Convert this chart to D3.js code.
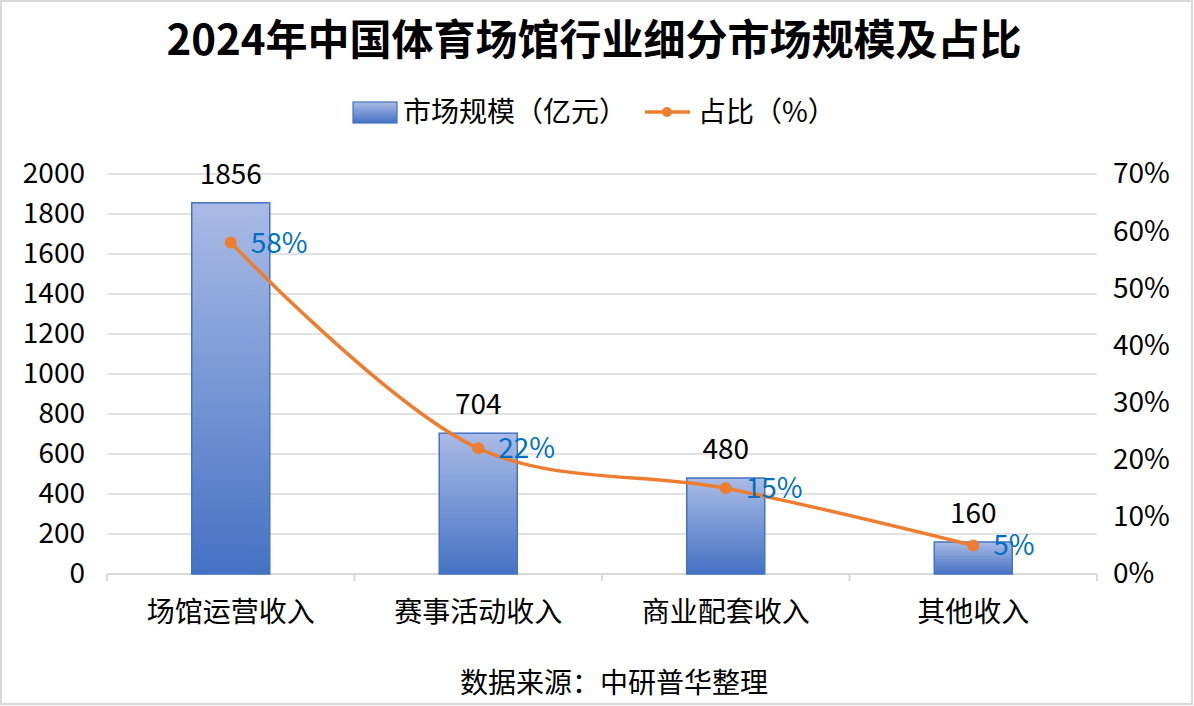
<!DOCTYPE html>
<html><head><meta charset="utf-8">
<script src="https://cdn.jsdelivr.net/npm/d3@7"></script>
<style>body{margin:0;background:#fff;} svg{display:block;font-family:"Noto Sans CJK SC","Noto Sans",sans-serif;}</style>
</head><body>
<svg id="c" width="1194" height="706"></svg>
<script>
const categories = ["场馆运营收入","赛事活动收入","商业配套收入","其他收入"];
const marketSize = [1856, 704, 480, 160];
const share = [58, 22, 15, 5];
const leftTicks = [0,200,400,600,800,1000,1200,1400,1600,1800,2000];
const rightTicks = [0,10,20,30,40,50,60,70];

const svg = d3.select("#c");
const W=1194,H=706;
svg.append("rect").attr("x",1).attr("y",1).attr("width",W-3).attr("height",H-3).attr("fill","#fff").attr("stroke","#d9d9d9").attr("stroke-width",2);

const x0=107,x1=1097,yTop=174,yBot=574;
const FS=28;
const x = d3.scaleBand().domain(categories).range([x0,x1]);
const yL = d3.scaleLinear().domain([0,2000]).range([yBot,yTop]);
const yR = d3.scaleLinear().domain([0,70]).range([yBot,yTop]);

const defs = svg.append("defs");
const g = defs.append("linearGradient").attr("id","bg").attr("x1",0).attr("y1",0).attr("x2",0).attr("y2",1).attr("gradientUnits","objectBoundingBox");
g.append("stop").attr("offset","0%").attr("stop-color","#aabbe6");
g.append("stop").attr("offset","100%").attr("stop-color","#4472c4");

// grid
svg.append("g").selectAll("line").data(leftTicks.filter(d=>d>0)).join("line")
  .attr("x1",x0).attr("x2",x1).attr("y1",d=>yL(d)).attr("y2",d=>yL(d))
  .attr("stroke","#d9d9d9").attr("stroke-width",1.5);

// x axis
const xa = svg.append("g").attr("transform",`translate(0,${yBot})`);
xa.append("line").attr("x1",x0).attr("x2",x1).attr("stroke","#d9d9d9").attr("stroke-width",2);
const tickXs = [x0, ...categories.map(c=>x(c)+x.bandwidth())];
xa.selectAll("line.t").data(tickXs).join("line").attr("class","t")
  .attr("x1",d=>d).attr("x2",d=>d).attr("y1",0).attr("y2",7).attr("stroke","#d9d9d9").attr("stroke-width",2);
xa.selectAll("text").data(categories).join("text")
  .attr("x",d=>x(d)+x.bandwidth()/2).attr("y",48).attr("text-anchor","middle")
  .attr("font-size",FS).attr("fill","#000").text(d=>d);

// left axis
const la = svg.append("g").attr("transform",`translate(${x0},0)`)
  .call(d3.axisLeft(yL).tickValues(leftTicks).tickSize(0).tickPadding(22).tickFormat(d3.format("d")));
la.select(".domain").remove();
la.selectAll("text").attr("font-size",FS).attr("fill","#000").attr("font-family","'Noto Sans CJK SC',sans-serif");

// right axis
const ra = svg.append("g").attr("transform",`translate(${x1},0)`)
  .call(d3.axisRight(yR).tickValues(rightTicks).tickSize(0).tickPadding(16).tickFormat(d=>d+"%"));
ra.select(".domain").remove();
ra.selectAll("text").attr("font-size",FS).attr("fill","#000").attr("font-family","'Noto Sans CJK SC',sans-serif");

// bars
const bw = 78;
svg.append("g").selectAll("rect").data(categories).join("rect")
  .attr("x",(d,i)=>x(d)+x.bandwidth()/2-bw/2).attr("width",bw)
  .attr("y",(d,i)=>yL(marketSize[i])).attr("height",(d,i)=>yBot-yL(marketSize[i]))
  .attr("fill","url(#bg)").attr("stroke","#4472c4").attr("stroke-width",1.5);
svg.append("g").selectAll("text").data(categories).join("text")
  .attr("x",d=>x(d)+x.bandwidth()/2).attr("y",(d,i)=>yL(marketSize[i])-19)
  .attr("text-anchor","middle").attr("font-size",FS).attr("fill","#000").text((d,i)=>marketSize[i]);

// line
const pts = categories.map((c,i)=>[x(c)+x.bandwidth()/2, yR(share[i])]);
svg.append("path").attr("d",d3.line().curve(d3.curveCatmullRom.alpha(0.5))(pts))
  .attr("fill","none").attr("stroke","#ed7d31").attr("stroke-width",3.5).attr("stroke-linecap","round");
svg.append("g").selectAll("circle").data(pts).join("circle")
  .attr("cx",d=>d[0]).attr("cy",d=>d[1]).attr("r",6).attr("fill","#ed7d31");
svg.append("g").selectAll("text").data(pts).join("text")
  .attr("x",d=>d[0]+20).attr("y",d=>d[1]+10).attr("font-size",FS).attr("fill","#0070c0")
  .text((d,i)=>share[i]+"%");

// title
svg.append("text").attr("x",594).attr("y",55).attr("text-anchor","middle").attr("font-size",42).attr("font-weight","bold").attr("fill","#000").text("2024年中国体育场馆行业细分市场规模及占比");

// legend
const lg = svg.append("g");
lg.append("rect").attr("x",353).attr("y",102).attr("width",44).attr("height",21).attr("fill","url(#bg)").attr("stroke","#4472c4").attr("stroke-width",1.2);
lg.append("text").attr("x",403).attr("y",122).attr("font-size",FS).attr("fill","#000").text("市场规模（亿元）");
lg.append("line").attr("x1",645).attr("x2",690).attr("y1",112).attr("y2",112).attr("stroke","#ed7d31").attr("stroke-width",3.5);
lg.append("circle").attr("cx",667).attr("cy",112).attr("r",5).attr("fill","#ed7d31");
lg.append("text").attr("x",698).attr("y",122).attr("font-size",FS).attr("fill","#000").text("占比（%）");

// source
svg.append("text").attr("x",614).attr("y",693).attr("text-anchor","middle").attr("font-size",FS).attr("fill","#000").text("数据来源：中研普华整理");
</script>
</body></html>
